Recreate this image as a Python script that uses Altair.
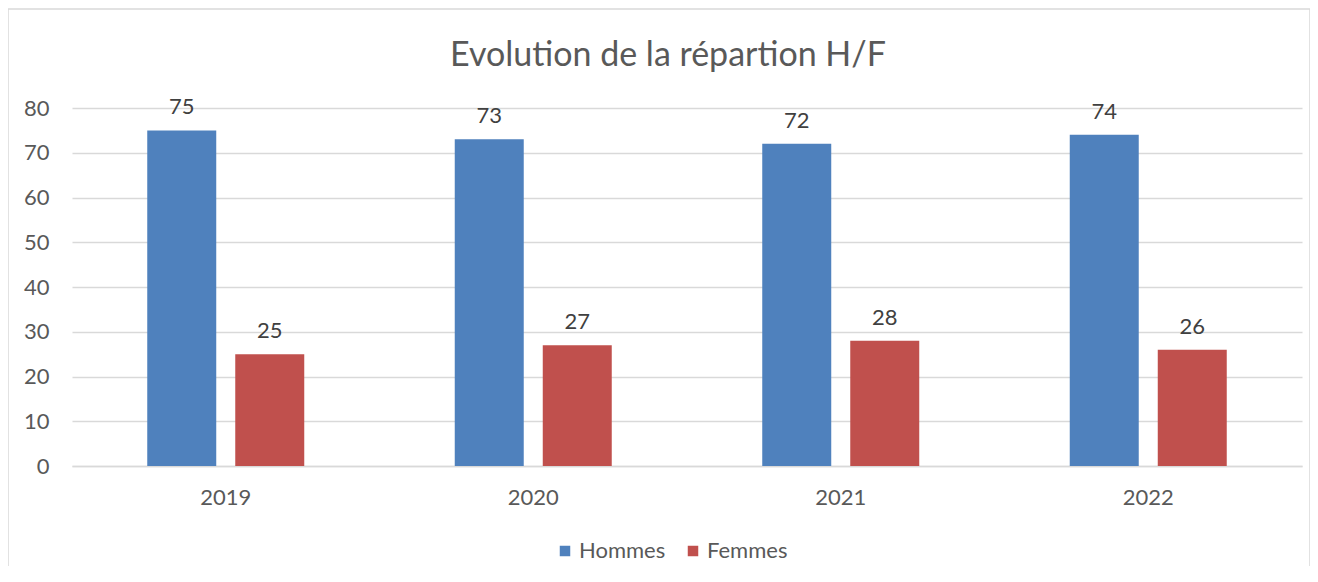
import altair as alt
import pandas as pd

years = ["2019", "2020", "2021", "2022"]
hommes = [75, 73, 72, 74]
femmes = [25, 27, 28, 26]
series = ["Hommes", "Femmes"]
colors = ["#4F81BD", "#C0504D"]
y_ticks = [0, 10, 20, 30, 40, 50, 60, 70, 80]
title_text = ["Evolution de la répartion H/F"]

rows = []
for i, y in enumerate(years):
    rows.append({"annee": y, "sexe": "Hommes", "valeur": hommes[i]})
    rows.append({"annee": y, "sexe": "Femmes", "valeur": femmes[i]})
df = pd.DataFrame(rows)

FONT = "Lato"
FS = 22

x_enc = alt.X("annee:N", sort=years, title=None,
              scale=alt.Scale(paddingInner=0, paddingOuter=0),
              axis=alt.Axis(labelAngle=0, labelFontSize=FS, labelColor="#595959",
                            labelFont=FONT, labelPadding=21, ticks=False,
                            domainColor="#d9d9d9", domainWidth=1.5, grid=False))
xoff = alt.XOffset("sexe:N", sort=series,
                   scale=alt.Scale(paddingInner=0.216, paddingOuter=0.855))
y_enc = alt.Y("valeur:Q", title=None,
              scale=alt.Scale(domain=[0, 80], nice=False),
              axis=alt.Axis(values=y_ticks, labelFontSize=FS, labelColor="#595959",
                            labelFont=FONT, labelPadding=23, ticks=False, domain=False,
                            gridColor="#d9d9d9", gridWidth=1.5))
color = alt.Color("sexe:N", sort=series,
                  scale=alt.Scale(domain=series, range=colors),
                  legend=alt.Legend(title=None, orient="none", direction="horizontal",
                                    legendX=482, legendY=432, symbolType="square",
                                    symbolSize=110, symbolStrokeWidth=0,
                                    labelFontSize=FS, labelColor="#595959", labelFont=FONT,
                                    columnPadding=16, symbolOffset=0, labelOffset=3))

bars = alt.Chart(df).mark_bar().encode(x=x_enc, xOffset=xoff, y=y_enc, color=color)

labels = alt.Chart(df).mark_text(baseline="bottom", dy=-11, fontSize=FS,
                                  color="#404040", font=FONT).encode(
    x=alt.X("annee:N", sort=years),
    xOffset=alt.XOffset("sexe:N", sort=series),
    y="valeur:Q",
    text="valeur:Q",
)

frame = alt.Chart(pd.DataFrame({"k": [0]})).mark_rect(
    fill=None, stroke="#d9d9d9", strokeWidth=1.5).encode(
    x=alt.value(-64), x2=alt.value(1238), y=alt.value(-99), y2=alt.value(620))

title = alt.Chart(pd.DataFrame({"t": title_text})).mark_text(
    fontSize=34, font=FONT, color="#595959", align="center", baseline="alphabetic").encode(
    x=alt.value(596), y=alt.value(-42), text="t:N")

chart = alt.layer(frame, bars, labels, title).properties(
    width=1230, height=358,
    padding={"left": 64, "top": 100, "right": 8, "bottom": 100},
    autosize=alt.AutoSizeParams(type="none"),
    background="white",
).configure_view(strokeWidth=0, stroke="transparent")

chart.save("out.html", embed_options={"renderer": "svg", "actions": False})
